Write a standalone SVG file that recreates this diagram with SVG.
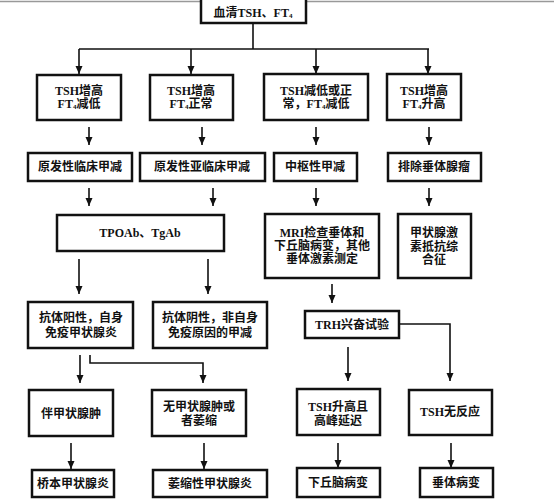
<svg xmlns="http://www.w3.org/2000/svg" width="554" height="504" viewBox="0 0 554 504">
<style>
.box{fill:#fff;stroke:#111;stroke-width:2.5}
.ln{fill:none;stroke:#111;stroke-width:1.6}
.t{font-family:"Liberation Serif","Noto Sans CJK SC",serif;font-size:12px;font-weight:bold;fill:#111;text-anchor:middle;dominant-baseline:central}
.s{font-size:7px}
</style>
<defs>
<marker id="ah" markerUnits="userSpaceOnUse" markerWidth="8" markerHeight="8" refX="8" refY="4" orient="auto">
<path d="M0,0.5 L8,4 L0,7.5 z" fill="#111"/>
</marker>
</defs>
<rect width="554" height="504" fill="#fff"/>
<line x1="0" y1="1.5" x2="554" y2="1.5" stroke="#999" stroke-width="1.5"/>

<g id="connectors">
<path class="ln" d="M253,23 V49 M79,49 H429"/>
<path class="ln" marker-end="url(#ah)" d="M79,49 V74"/>
<path class="ln" marker-end="url(#ah)" d="M191,49 V74"/>
<path class="ln" marker-end="url(#ah)" d="M316,49 V74"/>
<path class="ln" marker-end="url(#ah)" d="M428,49 V74"/>
<path class="ln" marker-end="url(#ah)" d="M89,127 V145"/>
<path class="ln" marker-end="url(#ah)" d="M202,127 V145"/>
<path class="ln" marker-end="url(#ah)" d="M316,127 V145"/>
<path class="ln" marker-end="url(#ah)" d="M429,127 V145"/>
<path class="ln" marker-end="url(#ah)" d="M89,188 V206"/>
<path class="ln" marker-end="url(#ah)" d="M213,188 V206"/>
<path class="ln" marker-end="url(#ah)" d="M316,188 V206"/>
<path class="ln" marker-end="url(#ah)" d="M429,188 V206"/>
<path class="ln" marker-end="url(#ah)" d="M79,259 V294"/>
<path class="ln" marker-end="url(#ah)" d="M208,259 V294"/>
<path class="ln" marker-end="url(#ah)" d="M80,355 V383"/>
<path class="ln" marker-end="url(#ah)" d="M90,355 V363 H203 V383"/>
<path class="ln" marker-end="url(#ah)" d="M71,443 V469"/>
<path class="ln" marker-end="url(#ah)" d="M204,443 V469"/>
<path class="ln" marker-end="url(#ah)" d="M332,284 V303"/>
<path class="ln" marker-end="url(#ah)" d="M348,347 V381"/>
<path class="ln" marker-end="url(#ah)" d="M399,324 H450 V381"/>
<path class="ln" marker-end="url(#ah)" d="M338,443 V468"/>
<path class="ln" marker-end="url(#ah)" d="M451,443 V468"/>
</g>

<g id="n0"><rect class="box" x="201" y="-2" width="105" height="25"/>
<text class="t" x="253" y="13">血清TSH、FT<tspan class="s" dy="3">4</tspan></text></g>

<g id="n1"><rect class="box" x="37" y="75" width="84" height="45"/>
<text class="t" x="79" y="91">TSH增高</text>
<text class="t" x="79" y="104">FT<tspan class="s" dy="3">4</tspan><tspan dy="-3">减低</tspan></text></g>

<g id="n2"><rect class="box" x="150" y="75" width="83" height="45"/>
<text class="t" x="191" y="91">TSH增高</text>
<text class="t" x="191" y="104">FT<tspan class="s" dy="3">4</tspan><tspan dy="-3">正常</tspan></text></g>

<g id="n3"><rect class="box" x="264" y="74" width="104" height="46"/>
<text class="t" x="316" y="91">TSH减低或正</text>
<text class="t" x="316" y="104">常，FT<tspan class="s" dy="3">4</tspan><tspan dy="-3">减低</tspan></text></g>

<g id="n4"><rect class="box" x="387" y="74" width="74" height="46"/>
<text class="t" x="424" y="91">TSH增高</text>
<text class="t" x="424" y="104">FT<tspan class="s" dy="3">4</tspan><tspan dy="-3">升高</tspan></text></g>

<g id="n5"><rect class="box" x="28" y="153" width="104" height="28"/>
<text class="t" x="80" y="167">原发性临床甲减</text></g>

<g id="n6"><rect class="box" x="140" y="153" width="125" height="28"/>
<text class="t" x="202" y="167">原发性亚临床甲减</text></g>

<g id="n7"><rect class="box" x="274" y="153" width="83" height="28"/>
<text class="t" x="315" y="167">中枢性甲减</text></g>

<g id="n8"><rect class="box" x="388" y="153" width="93" height="28"/>
<text class="t" x="434" y="167">排除垂体腺瘤</text></g>

<g id="n9"><rect class="box" x="57" y="215" width="167" height="36"/>
<text class="t" x="140" y="233">TPOAb、TgAb</text></g>

<g id="n10"><rect class="box" x="265" y="214" width="114" height="64"/>
<text class="t" x="322" y="233">MRI检查垂体和</text>
<text class="t" x="322" y="246">下丘脑病变，其他</text>
<text class="t" x="322" y="259">垂体激素测定</text></g>

<g id="n11"><rect class="box" x="398" y="214" width="73" height="64"/>
<text class="t" x="434" y="233">甲状腺激</text>
<text class="t" x="434" y="247">素抵抗综</text>
<text class="t" x="434" y="260">合征</text></g>

<g id="n12"><rect class="box" x="28" y="302" width="105" height="46"/>
<text class="t" x="81" y="318">抗体阳性，自身</text>
<text class="t" x="81" y="333">免疫甲状腺炎</text></g>

<g id="n13"><rect class="box" x="153" y="302" width="114" height="46"/>
<text class="t" x="210" y="318">抗体阴性，非自身</text>
<text class="t" x="210" y="333">免疫原因的甲减</text></g>

<g id="n14"><rect class="box" x="305" y="311" width="94" height="27"/>
<text class="t" x="352" y="325">TRH兴奋试验</text></g>

<g id="n15"><rect class="box" x="29" y="390" width="84" height="46"/>
<text class="t" x="71" y="414">伴甲状腺肿</text></g>

<g id="n16"><rect class="box" x="152" y="390" width="94" height="46"/>
<text class="t" x="199" y="407">无甲状腺肿或</text>
<text class="t" x="199" y="421">者萎缩</text></g>

<g id="n17"><rect class="box" x="297" y="389" width="83" height="46"/>
<text class="t" x="338" y="407">TSH升高且</text>
<text class="t" x="338" y="421">高峰延迟</text></g>

<g id="n18"><rect class="box" x="409" y="390" width="83" height="45"/>
<text class="t" x="450" y="412">TSH无反应</text></g>

<g id="n19"><rect class="box" x="32" y="470" width="82" height="27"/>
<text class="t" x="73" y="484">桥本甲状腺炎</text></g>

<g id="n20"><rect class="box" x="153" y="470" width="114" height="27"/>
<text class="t" x="210" y="484">萎缩性甲状腺炎</text></g>

<g id="n21"><rect class="box" x="297" y="468" width="83" height="29"/>
<text class="t" x="338" y="483">下丘脑病变</text></g>

<g id="n22"><rect class="box" x="420" y="468" width="73" height="29"/>
<text class="t" x="456" y="483">垂体病变</text></g>
</svg>
